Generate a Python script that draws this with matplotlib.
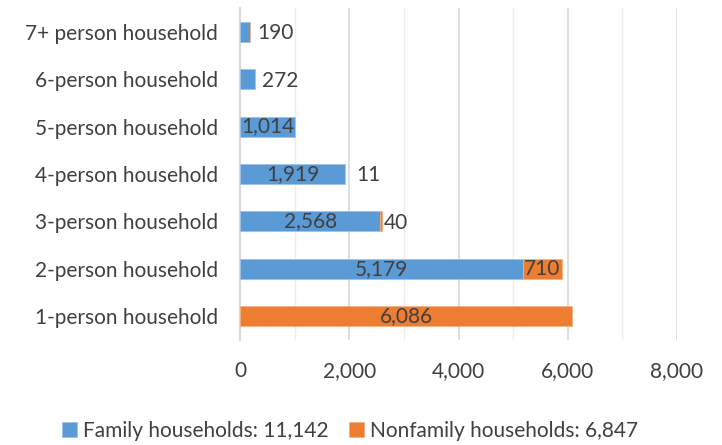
import matplotlib.pyplot as plt
import numpy as np

categories = ['1-person household', '2-person household', '3-person household',
              '4-person household', '5-person household', '6-person household',
              '7+ person household']
family = [0, 5179, 2568, 1919, 1014, 272, 190]
nonfamily = [6086, 710, 40, 11, 0, 0, 0]
family_total = 11142
nonfamily_total = 6847

blue = '#5B9BD5'
orange = '#ED7D31'
txt = '#404040'

plt.rcParams['font.family'] = ['Lato', 'DejaVu Sans']

fig = plt.figure(figsize=(7.22, 4.45), dpi=100)
ax = fig.add_axes([240 / 722, 1 - 340 / 445, 437 / 722, 332 / 445])

y = np.arange(len(categories))
h = 0.42
fb = ax.barh(y, family, height=h, color=blue, edgecolor='#9DC3E6', linewidth=0.6,
             label=f'Family households: {family_total:,}', zorder=3)
nb = ax.barh(y, nonfamily, left=family, height=h, color=orange, edgecolor='#F4B183',
             linewidth=0.6, label=f'Nonfamily households: {nonfamily_total:,}', zorder=3)

fs = 15
# labels: centred in the bar when it is wide enough, otherwise just to the right
for i in range(len(categories)):
    f, n = family[i], nonfamily[i]
    if f > 0:
        if f > 900:
            ax.text(f / 2, i, f'{f:,}', ha='center', va='center', fontsize=fs, color=txt, zorder=4)
        else:
            ax.annotate(f'{f:,}', (f, i), xytext=(5, -1), textcoords='offset points',
                        ha='left', va='center', fontsize=fs, color=txt, zorder=4)
    if n > 0:
        if n > 500:
            ax.text(f + n / 2, i, f'{n:,}', ha='center', va='center', fontsize=fs, color=txt, zorder=4)
        else:
            off = 8 if n < 20 else 1
            ax.annotate(f'{n:,}', (f + n, i), xytext=(off, -1), textcoords='offset points',
                        ha='left', va='center', fontsize=fs, color=txt, zorder=4)

ax.set_xlim(0, 8000)
ax.set_ylim(-0.5, len(categories) - 0.5)
ax.set_xticks(np.arange(0, 8001, 2000))
ax.set_xticks(np.arange(1000, 8000, 2000), minor=True)
ax.xaxis.set_major_formatter(plt.FuncFormatter(lambda v, p: f'{int(v):,}'))
ax.grid(axis='x', which='major', color='#D9D9D9', linewidth=1.2, zorder=0)
ax.grid(axis='x', which='minor', color='#EDEDED', linewidth=1.0, zorder=0)
ax.set_yticks(y)
ax.set_yticklabels(categories)
ax.tick_params(axis='both', which='both', length=0, labelsize=fs, colors=txt)
ax.tick_params(axis='x', pad=15)
ax.tick_params(axis='y', pad=16)
for s in ['top', 'right', 'bottom']:
    ax.spines[s].set_visible(False)
ax.spines['left'].set_color('#D9D9D9')
ax.spines['left'].set_linewidth(1.5)

fig.legend(handles=[fb, nb], loc='center', bbox_to_anchor=(0.485, 1 - 431 / 445), ncol=2,
           frameon=False, fontsize=fs, labelcolor=txt, handlelength=0.7, handleheight=0.7,
           handletextpad=0.3, columnspacing=1.0)

fig.savefig('out.png', dpi=100)
